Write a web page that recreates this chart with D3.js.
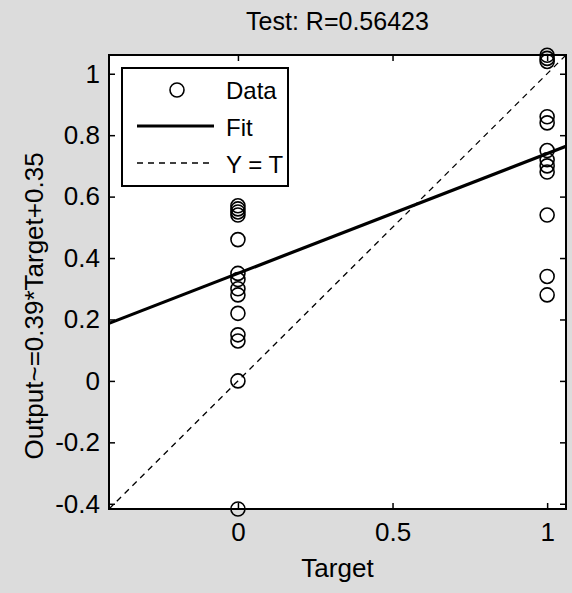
<!DOCTYPE html>
<html>
<head>
<meta charset="utf-8">
<script src="https://cdn.jsdelivr.net/npm/d3@7"></script>
<style>
  body { margin: 0; background: #dcdcdc; }
  svg { display: block; font-family: "Liberation Sans", Arial, sans-serif; }
</style>
</head>
<body>
<div id="chart"></div>
<script>
// data
const targetClasses = [0, 1]
const outputsTarget0 = [0.57, 0.56, 0.55, 0.54, 0.46, 0.35, 0.33, 0.30, 0.28, 0.22, 0.15, 0.13, 0.0, -0.417]
const outputsTarget1 = [1.06, 1.05, 1.04, 0.86, 0.84, 0.75, 0.72, 0.70, 0.68, 0.54, 0.34, 0.28]
const fitSlope = 0.39
const fitIntercept = 0.35
const axisLimits = [-0.417, 1.061]
const xTicks = [0, 0.5, 1]
const yTicks = [-0.4, -0.2, 0, 0.2, 0.4, 0.6, 0.8, 1]
const titleText = 'Test: R=0.56423'
const legendLabels = ['Data', 'Fit', 'Y = T']

const W = 572, H = 593
const margin = {top: 55, right: 6, bottom: 84, left: 109}
const width = W - margin.left - margin.right
const height = H - margin.top - margin.bottom

const svg = d3.select('#chart').append('svg')
    .attr('width', W)
    .attr('height', H)

const g = svg.append('g')
    .attr('transform', `translate(${margin.left},${margin.top})`)

let x = d3.scaleLinear().domain(axisLimits).range([0, width])
let y = d3.scaleLinear().domain(axisLimits).range([height, 0])

g.append('rect')
    .attr('width', width)
    .attr('height', height)
    .style('fill', '#fff')

// ticks inside on all four sides, like matlab box on
const tickLen = 6
g.append('g').attr('transform', `translate(0,${height})`)
    .call(d3.axisBottom(x).tickValues(xTicks).tickSize(-tickLen).tickPadding(14).tickFormat(d => String(d)))
g.append('g')
    .call(d3.axisTop(x).tickValues(xTicks).tickSize(-tickLen).tickFormat(''))
g.append('g')
    .call(d3.axisLeft(y).tickValues(yTicks).tickSize(-tickLen).tickPadding(9).tickFormat(d => String(d)))
g.append('g').attr('transform', `translate(${width},0)`)
    .call(d3.axisRight(y).tickValues(yTicks).tickSize(-tickLen).tickFormat(''))

g.selectAll('.domain').remove()
g.selectAll('.tick line').style('stroke', '#000').style('stroke-width', 1.5)
g.selectAll('.tick text')
    .style('font-size', '26px')
    .style('fill', '#000')
    .style('font-family', '"Liberation Sans", Arial, sans-serif')

// clipped plot area
g.append('clipPath').attr('id', 'clip')
  .append('rect').attr('width', width).attr('height', height)
const plot = g.append('g').attr('clip-path', 'url(#clip)')

// Y = T
plot.append('line')
    .attr('x1', x(axisLimits[0])).attr('y1', y(axisLimits[0]))
    .attr('x2', x(axisLimits[1])).attr('y2', y(axisLimits[1]))
    .style('stroke', '#000')
    .style('stroke-width', 1.3)
    .style('stroke-dasharray', '6,5')

// fit
plot.append('line')
    .attr('x1', x(axisLimits[0])).attr('y1', y(fitSlope * axisLimits[0] + fitIntercept))
    .attr('x2', x(axisLimits[1])).attr('y2', y(fitSlope * axisLimits[1] + fitIntercept))
    .style('stroke', '#000')
    .style('stroke-width', 3.2)

const points = []
outputsTarget0.forEach(v => points.push({t: targetClasses[0], o: v}))
outputsTarget1.forEach(v => points.push({t: targetClasses[1], o: v}))

g.append('g').selectAll('circle')
    .data(points)
  .enter().append('circle')
    .attr('cx', d => x(d.t))
    .attr('cy', d => y(d.o))
    .attr('r', 7)
    .style('fill', 'none')
    .style('stroke', '#000')
    .style('stroke-width', 1.6)

// box
g.append('rect')
    .attr('width', width)
    .attr('height', height)
    .style('fill', 'none')
    .style('stroke', '#000')
    .style('stroke-width', 2)

// legend
const leg = g.append('g').attr('transform', `translate(${122 - margin.left},${68 - margin.top})`)
leg.append('rect')
    .attr('width', 166).attr('height', 118)
    .style('fill', '#fff').style('stroke', '#000').style('stroke-width', 2)
leg.append('circle')
    .attr('cx', 55).attr('cy', 22).attr('r', 7)
    .style('fill', 'none').style('stroke', '#000').style('stroke-width', 1.6)
leg.append('line')
    .attr('x1', 15).attr('x2', 92).attr('y1', 58).attr('y2', 58)
    .style('stroke', '#000').style('stroke-width', 3.2)
leg.append('line')
    .attr('x1', 15).attr('x2', 92).attr('y1', 95).attr('y2', 95)
    .style('stroke', '#000').style('stroke-width', 1.3).style('stroke-dasharray', '6,5')
leg.selectAll('text.lab')
    .data(legendLabels)
  .enter().append('text')
    .attr('class', 'lab')
    .attr('x', 104)
    .attr('y', (d, i) => 22 + i * 37)
    .attr('dy', '0.36em')
    .style('font-size', '24px')
    .text(d => d)

// title and labels
svg.append('text')
    .attr('x', margin.left + width / 2)
    .attr('y', 30)
    .attr('text-anchor', 'middle')
    .style('font-size', '25px')
    .text(titleText)

svg.append('text')
    .attr('x', margin.left + width / 2)
    .attr('y', 577)
    .attr('text-anchor', 'middle')
    .style('font-size', '26px')
    .text('Target')

svg.append('text')
    .attr('transform', `translate(43,306) rotate(-90)`)
    .attr('text-anchor', 'middle')
    .style('font-size', '26px')
    .text(`Output~=${fitSlope}*Target+${fitIntercept}`)
</script>
</body>
</html>
